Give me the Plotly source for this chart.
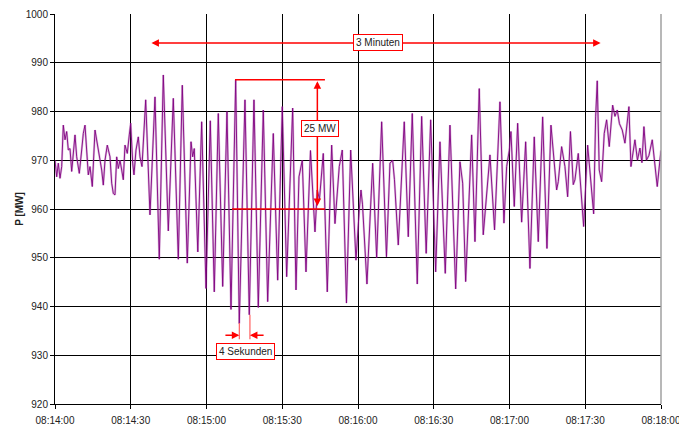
import plotly.graph_objects as go

# ---- data: time in seconds after 08:14:00, power in MW ----
seconds = [
    0.0, 0.67, 1.31, 1.98, 2.65, 3.29, 3.96, 4.63, 5.27, 5.94, 6.61, 7.92, 8.59, 9.62,
    10.57, 11.21, 11.88, 12.55, 13.19, 13.86, 14.77, 15.84, 16.75, 17.82, 18.49, 19.13,
    19.80, 20.71, 21.78, 22.45, 23.09, 23.76, 24.43, 25.07, 25.74, 26.41, 27.05, 27.72,
    28.63, 29.42, 29.98, 30.77, 31.28, 32.08, 32.99, 33.66, 34.45,
    35.92, 37.62, 39.60, 41.30, 42.89, 44.87, 46.85, 48.83, 50.41, 52.39, 53.86, 54.53,
    55.16, 56.56, 58.09, 59.80, 61.50, 63.08, 64.67, 66.41, 68.11, 69.70, 71.56, 72.98,
    75.24, 76.94, 78.80, 80.51, 82.49, 84.23, 86.45, 88.19, 90.01, 91.75, 94.13, 95.44,
    96.62, 97.93, 99.40, 101.18, 102.96, 103.87, 104.74, 106.25, 107.83, 109.57, 110.88,
    112.58, 113.77, 115.43, 117.10, 119.20, 120.50, 121.18, 121.77, 123.55, 125.81,
    127.39, 129.37, 131.27, 132.66, 133.73, 134.44, 135.95, 138.32, 139.91, 141.49,
    143.47, 145.21, 147.00, 148.78, 150.76, 152.46, 154.56, 156.42, 158.68, 160.38,
    161.45, 162.64, 165.01, 166.32, 168.02, 169.60, 170.95, 172.26, 174.08, 176.22,
    177.80, 178.87, 179.90, 180.57, 181.88, 183.23, 184.81, 186.40, 188.10, 189.80,
    191.39, 193.13, 194.83, 196.42, 198.67, 199.31, 200.65, 201.96, 203.03, 204.14,
    205.25, 205.92, 207.23, 208.10, 209.37, 210.95, 211.86, 213.33, 214.12, 214.75,
    215.54, 216.49, 217.52, 218.47, 219.50, 220.85, 221.76, 222.67, 223.54, 224.65,
    225.72, 227.30, 228.10, 228.89, 229.68, 230.67, 231.66, 232.45, 233.24, 234.23,
    235.22, 236.53, 237.60, 238.51, 239.18, 239.98,
]
power_mw = [
    970.0, 966.6, 969.4, 966.3, 968.7, 977.2, 974.2, 975.9, 972.1, 972.4, 967.7, 975.2, 970.7, 967.3,
    972.1, 975.5, 977.2, 972.8, 967.0, 968.7, 964.6, 976.2, 973.5, 970.0, 968.0, 964.9,
    970.0, 973.1, 970.7, 965.3, 963.2, 962.9, 970.7, 968.3, 970.0, 968.0, 966.0, 973.1,
    971.4, 975.2, 977.6, 969.4, 967.0, 972.1, 974.8, 970.7, 968.7,
    982.4, 958.8, 983.0, 949.7, 987.5, 955.5, 982.7, 949.7, 985.4, 948.9, 973.8, 970.7,
    972.4, 951.2, 977.9, 943.7, 978.1, 943.0, 979.6, 944.1, 980.0, 939.4, 986.5, 936.5,
    982.4, 938.3, 982.4, 939.8, 980.3, 941.0, 975.5, 945.4, 981.0, 946.1, 980.7, 943.4,
    966.6, 970.0, 947.1, 972.0, 955.3, 963.9, 962.0, 971.4, 943.0, 973.1, 957.0,
    968.7, 972.1, 940.7, 972.1, 949.5, 959.8, 963.9, 961.0, 944.6, 969.4,
    950.0, 977.9, 950.2, 969.4, 970.0, 966.0, 952.6, 977.9, 954.3, 979.6,
    944.6, 979.0, 950.9, 978.3, 947.1, 973.8, 946.8, 977.2, 943.6, 969.7,
    965.3, 945.1, 975.2, 953.3, 984.7, 954.7, 964.0, 971.1, 955.7, 982.0,
    957.1, 968.7, 972.0, 975.9, 960.5, 977.6, 957.3, 973.8, 947.8, 974.8,
    953.3, 978.9, 951.9, 977.2, 963.9, 965.6, 972.8, 968.7, 962.5, 975.9,
    965.0, 966.0, 971.4, 966.0, 956.4, 973.1, 968.0, 959.0, 978.9, 986.3,
    968.0, 965.6, 975.5, 978.3, 972.8, 981.3, 979.0, 980.3, 977.5, 976.2,
    973.5, 981.0, 968.7, 972.0, 974.2, 970.0, 972.5, 969.5, 976.9, 970.0,
    971.0, 974.2, 969.0, 964.6, 968.0, 972.0,
]
x_tick_seconds = [0, 30, 60, 90, 120, 150, 180, 210, 240]
x_tick_labels = ["08:14:00", "08:14:30", "08:15:00", "08:15:30", "08:16:00",
                 "08:16:30", "08:17:00", "08:17:30", "08:18:00"]
y_ticks = [920, 930, 940, 950, 960, 970, 980, 990, 1000]

FONT = "Liberation Sans, Arial, sans-serif"
RED = "#FF0000"

fig = go.Figure()
fig.add_trace(go.Scatter(x=seconds, y=power_mw, mode="lines",
                         line=dict(color="rgba(160,60,160,0.35)", width=2.2),
                         hoverinfo="skip", showlegend=False))
fig.add_trace(go.Scatter(x=seconds, y=power_mw, mode="lines",
                         line=dict(color="#800080", width=0.9),
                         showlegend=False))

# right frame edge
fig.add_shape(type="line", xref="paper", yref="paper", x0=1, x1=1, y0=0, y1=1,
              line=dict(color="#A0A0A0", width=1.5))

# 25 MW markers
fig.add_shape(type="line", x0=71.3, x1=106.9, y0=986.5, y1=986.5, line=dict(color=RED, width=1.5))
fig.add_shape(type="line", x0=70.1, x1=106.9, y0=960.0, y1=960.0, line=dict(color=RED, width=1.5))
# 4 Sekunden markers
fig.add_shape(type="line", x0=73.0, x1=73.0, y0=936.6, y1=933.3, line=dict(color="#FF6060", width=1.2))
fig.add_shape(type="line", x0=77.2, x1=77.2, y0=938.3, y1=933.3, line=dict(color="#FF6060", width=1.2))

arrow = dict(showarrow=True, text="", xref="x", yref="y", axref="x", ayref="y",
             arrowcolor=RED, arrowwidth=1.5, arrowhead=2, arrowsize=1)
annotations = [
    dict(arrow, x=216.1, y=994.05, ax=37.6, ay=994.05, arrowside="end+start"),
    dict(arrow, x=103.9, y=986.2, ax=103.9, ay=960.3, arrowside="end+start"),
    dict(arrow, x=73.0, y=934.1, ax=66.9, ay=934.1),
    dict(arrow, x=77.2, y=934.1, ax=83.2, ay=934.1),
]
box = dict(showarrow=False, xref="x", yref="y", bgcolor="white", bordercolor=RED,
           borderwidth=1, borderpad=2, font=dict(family=FONT, size=10, color="#222222"))
annotations += [
    dict(box, x=127.9, y=994.2, text="3 Minuten"),
    dict(box, x=105.1, y=976.55, text="25 MW"),
    dict(box, x=75.6, y=930.8, text="4 Sekunden"),
]

fig.update_layout(
    width=679, height=427,
    margin=dict(l=55, r=18, t=14, b=23, autoexpand=False),
    paper_bgcolor="white", plot_bgcolor="white",
    font=dict(family=FONT, size=10, color="#222222"),
    annotations=annotations,
    xaxis=dict(range=[0, 240], tickvals=x_tick_seconds, ticktext=x_tick_labels,
               showgrid=True, gridcolor="black", gridwidth=1, automargin=False,
               showline=True, linecolor="black", linewidth=1, ticklabeloverflow="allow",
               ticklabelstandoff=3,
               ticks="outside", ticklen=4, tickcolor="black", zeroline=False),
    yaxis=dict(range=[920, 1000], tickvals=y_ticks, automargin=False,
               showgrid=True, gridcolor="black", gridwidth=1,
               showline=True, linecolor="black", linewidth=1,
               ticks="outside", ticklen=4, tickcolor="black", zeroline=False,
               title=dict(text="<b>P [MW]</b>", font=dict(size=10), standoff=0)),
)

fig.write_html("out.html", config={"displayModeBar": False},
               post_script="document.body.style.margin='0';document.body.style.overflow='hidden';")
